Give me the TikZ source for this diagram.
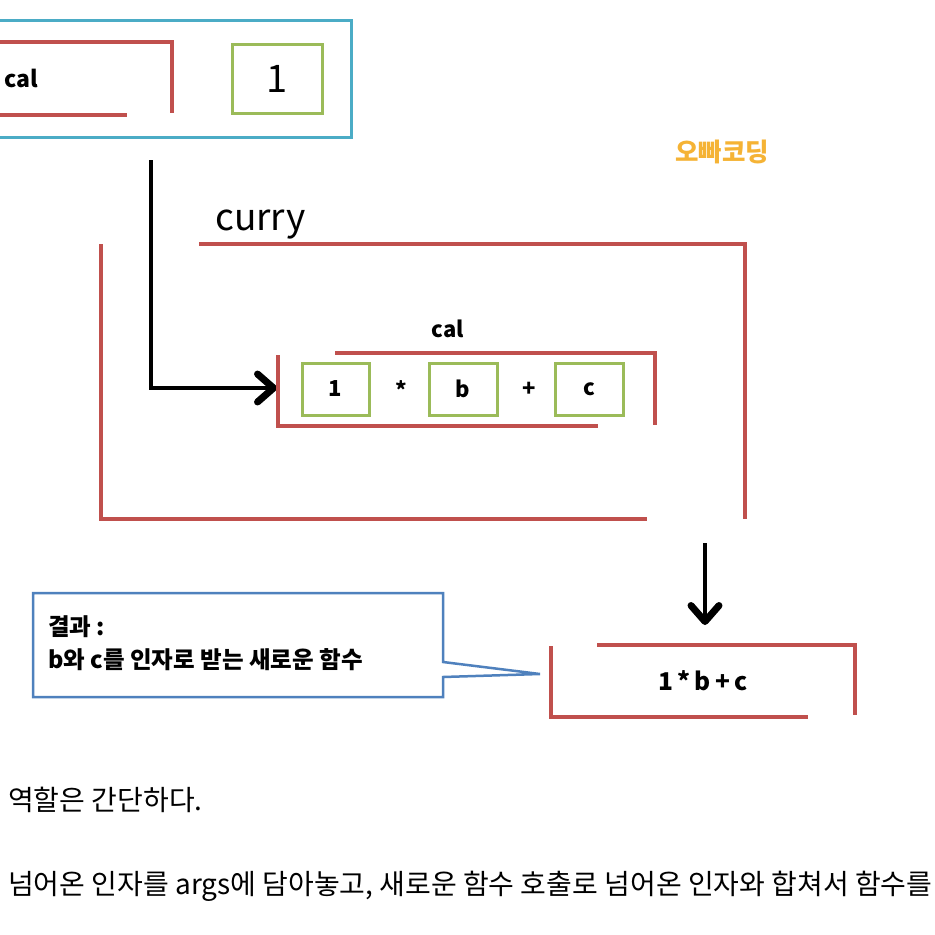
\documentclass[tikz,border=0pt]{standalone}
\usepackage{fontspec}
\setmainfont{Noto Sans CJK KR}
\newfontfamily\kr{Noto Sans CJK KR}
\usetikzlibrary{arrows.meta}
\definecolor{bred}{HTML}{C0504D}
\definecolor{bgreen}{HTML}{9BBB59}
\definecolor{bblue}{HTML}{4BACC6}
\definecolor{cblue}{HTML}{4F81BD}
\definecolor{orng}{HTML}{F5B335}
\tikzset{
  redline/.style={draw=bred, line width=4pt},
  greenbox/.style={draw=bgreen, line width=3pt, minimum width=#1, inner sep=0pt},
  blk/.style={draw=black, line width=4.5pt, -{Straight Barb[length=16pt,width=28pt,line width=7pt,round]}},
  lbl/.style={inner sep=0pt, font=\kr\bfseries\fontsize{22}{26}\selectfont},
}
\begin{document}
\begin{tikzpicture}[x=1pt,y=-1pt]
\useasboundingbox (0,0) rectangle (935,935);
% top blue box
\draw[draw=bblue, line width=3pt] (-5,20) -- (351,20) -- (351,137) -- (-5,137);
\draw[redline] (-5,42) -- (172,42) -- (172,113);
\draw[redline] (-5,115) -- (127,115);
\node[lbl, anchor=west, font=\kr\bfseries\fontsize{23}{26}\selectfont] (caltop) at (4,78) {cal};
\node[greenbox=90pt, minimum height=69pt, font=\kr\fontsize{38}{40}\selectfont] (one) at (277,79) {1};
% arrow 1
\coordinate (a1s) at (151,160);
\coordinate (a1e) at (277,388);
\draw[blk] (a1s) |- (a1e);
% curry
\node[inner sep=0pt, anchor=base west, font=\kr\fontsize{37}{40}\selectfont] (curry) at (215,230) {curry};
\draw[redline] (199,244) -- (745,244) -- (745,519);
\draw[redline] (101,244) -- (101,519) -- (647,519);
% inner cal
\node[lbl] (calin) at (448,329) {cal};
\draw[redline] (335,353) -- (655,353) -- (655,425);
\draw[redline] (278,355) -- (278,426) -- (598,426);
\node[lbl, draw=bgreen, line width=3pt, minimum width=67pt, minimum height=52pt] (b1) at (335.5,389) {1};
\node[lbl] (mul) at (401,390) {*};
\node[lbl, draw=bgreen, line width=3pt, minimum width=68pt, minimum height=52pt] (bb) at (463,389) {b};
\node[lbl] (plus) at (529,389) {+};
\node[lbl, draw=bgreen, line width=3pt, minimum width=68pt, minimum height=52pt] (bc) at (589,389) {c};
% orange
\node[inner sep=0pt, text=orng, font=\kr\bfseries\fontsize{25.5}{28}\selectfont] (brand) at (722,152) {오빠코딩};
% arrow 2
\coordinate (a2s) at (705,543);
\coordinate (a2e) at (705,625);
\draw[blk] (a2s) -- (a2e);
% result bracket
\draw[redline] (597,645) -- (855,645) -- (855,715);
\draw[redline] (551,646) -- (551,717) -- (808,717);
\node[lbl, font=\kr\bfseries\fontsize{24.5}{27}\selectfont] (res) at (703,681) {1\,*\,b\,+\,c};
% callout
\draw[draw=cblue, line width=2.5pt, fill=white, line join=miter]
  (33,593) -- (443,593) -- (443,662) -- (540,674) -- (443,677) -- (443,697) -- (33,697) -- cycle;
\node[inner sep=0pt, anchor=west, font=\kr\bfseries\fontsize{23.5}{26}\selectfont] (c1) at (48,627) {결과 :};
\node[inner sep=0pt, anchor=west, font=\kr\bfseries\fontsize{23.5}{26}\selectfont] (c2) at (48,660) {b와 c를 인자로 받는 새로운 함수};
% bottom text
\node[inner sep=0pt, anchor=west, font=\kr\fontsize{28}{30}\selectfont] (t1) at (8,800) {역할은 간단하다.};
\node[inner sep=0pt, anchor=west, font=\kr\fontsize{28}{30}\selectfont] (t2) at (8,886) {넘어온 인자를 args에 담아놓고, 새로운 함수 호출로 넘어온 인자와 합쳐서 함수를};
\end{tikzpicture}
\end{document}
